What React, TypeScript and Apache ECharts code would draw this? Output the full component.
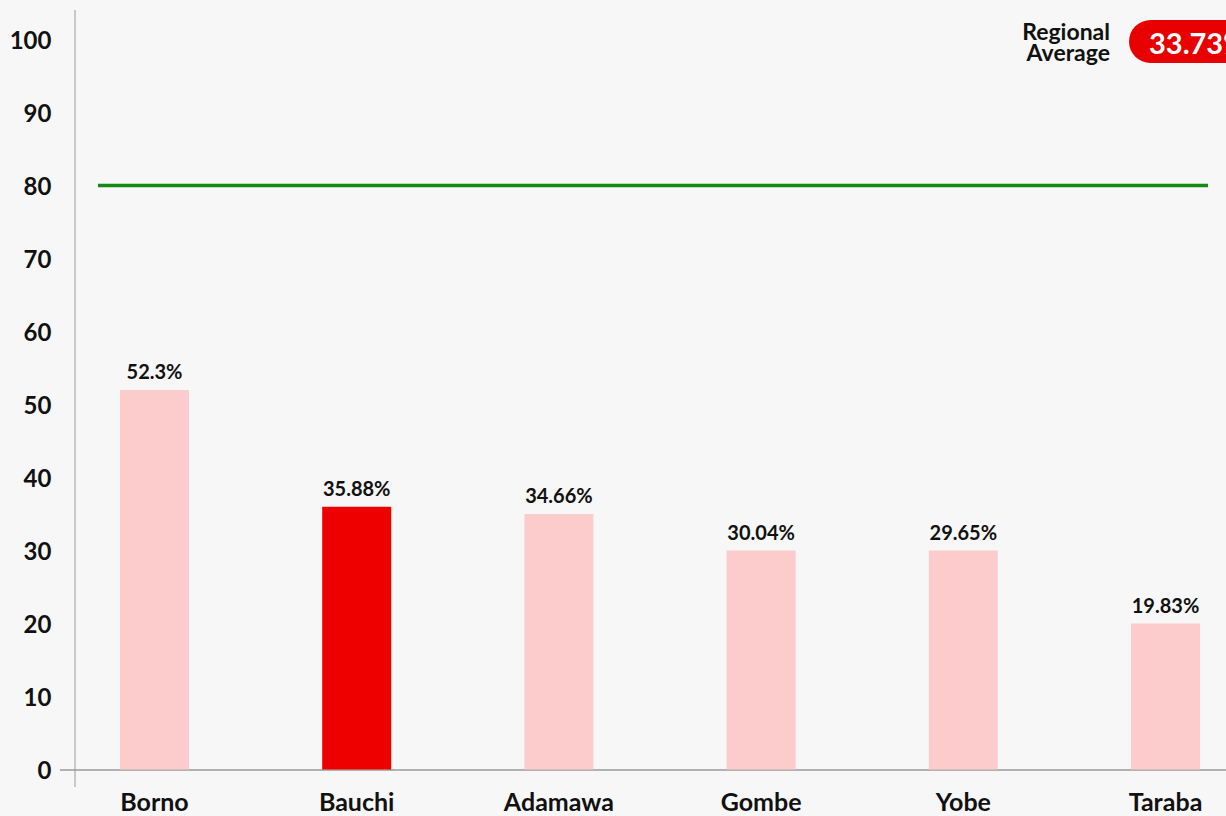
import React, { useEffect, useRef } from "react";
import * as echarts from "echarts";

const categories = ["Borno", "Bauchi", "Adamawa", "Gombe", "Yobe", "Taraba"];
// bar heights as drawn in the reference (rounded) and the printed labels
const barValues = [52, 36, 35, 30, 30, 20];
const labelValues = ["52.3", "35.88", "34.66", "30.04", "29.65", "19.83"];
const highlighted = "Bauchi";
const target = 80;
const regionalAverage = "33.73%";
const yTicks = [0, 10, 20, 30, 40, 50, 60, 70, 80, 90, 100];

const FONT = "Lato, 'Noto Sans', sans-serif";

export default function App() {
  const ref = useRef<HTMLDivElement>(null);
  useEffect(() => {
    if (!ref.current) return;
    const chart = echarts.init(ref.current, null, { renderer: "svg" });
    const option: any = {
      animation: false,
      backgroundColor: "#f7f7f7",
      grid: { left: 53.4, right: 13.4, top: 39.5, bottom: 46.5, containLabel: false },
      xAxis: {
        type: "category",
        data: categories,
        axisLine: { show: false },
        axisTick: { show: false },
        axisLabel: {
          color: "#111",
          fontFamily: FONT,
          fontWeight: "bold",
          fontSize: 25,
          margin: 19,
        },
      },
      yAxis: {
        type: "value",
        min: yTicks[0],
        max: yTicks[yTicks.length - 1],
        interval: 10,
        splitLine: { show: false },
        axisLine: { show: false },
        axisTick: { show: false },
        axisLabel: {
          color: "#111",
          fontFamily: FONT,
          fontWeight: "bold",
          fontSize: 24,
          margin: 2,
        },
      },
      series: [
        {
          type: "bar",
          barWidth: 69,
          data: barValues.map((v, i) => ({
            value: v,
            itemStyle: { color: categories[i] === highlighted ? "#ee0000" : "#fccbcc" },
          })),
          label: {
            show: true,
            position: "top",
            distance: 9,
            color: "#111",
            fontFamily: FONT,
            fontWeight: "bold",
            fontSize: 20,
            formatter: (p: any) => `${labelValues[p.dataIndex]}%`,
          },
        },
      ],
    };
    chart.setOption(option);
    const yT = chart.convertToPixel({ yAxisIndex: 0 }, target) as number;
    const y0 = chart.convertToPixel({ yAxisIndex: 0 }, 0) as number;
    chart.setOption({
      graphic: [
        { type: "line", shape: { x1: 75, y1: 10, x2: 75, y2: 787 }, style: { stroke: "#9a9a9a", lineWidth: 1 } },
        { type: "line", shape: { x1: 60, y1: y0 + 0.5, x2: 1280, y2: y0 + 0.5 }, style: { stroke: "#9a9a9a", lineWidth: 1.5 } },
        { type: "line", shape: { x1: 98, y1: yT, x2: 1208, y2: yT }, style: { stroke: "#138a13", lineWidth: 3.5 } },
        {
          type: "text",
          x: 1110,
          y: 41,
          style: {
            text: "Regional\nAverage",
            align: "right",
            verticalAlign: "middle",
            fill: "#111",
            font: `bold 23px ${FONT}`,
            lineHeight: 21,
          },
        },
        { type: "rect", shape: { x: 1129, y: 20, width: 140, height: 43, r: 21.5 }, style: { fill: "#e80000" } },
        {
          type: "text",
          x: 1149,
          y: 42,
          style: {
            text: regionalAverage,
            align: "left",
            verticalAlign: "middle",
            fill: "#ffffff",
            font: `bold 29px ${FONT}`,
          },
        },
      ],
    });
    return () => chart.dispose();
  }, []);
  return (
    <div style={{ position: "fixed", left: 0, top: 0, width: 1226, height: 816, overflow: "hidden", background: "#f7f7f7" }}>
      <div ref={ref} style={{ width: 1280, height: 816 }} />
    </div>
  );
}
